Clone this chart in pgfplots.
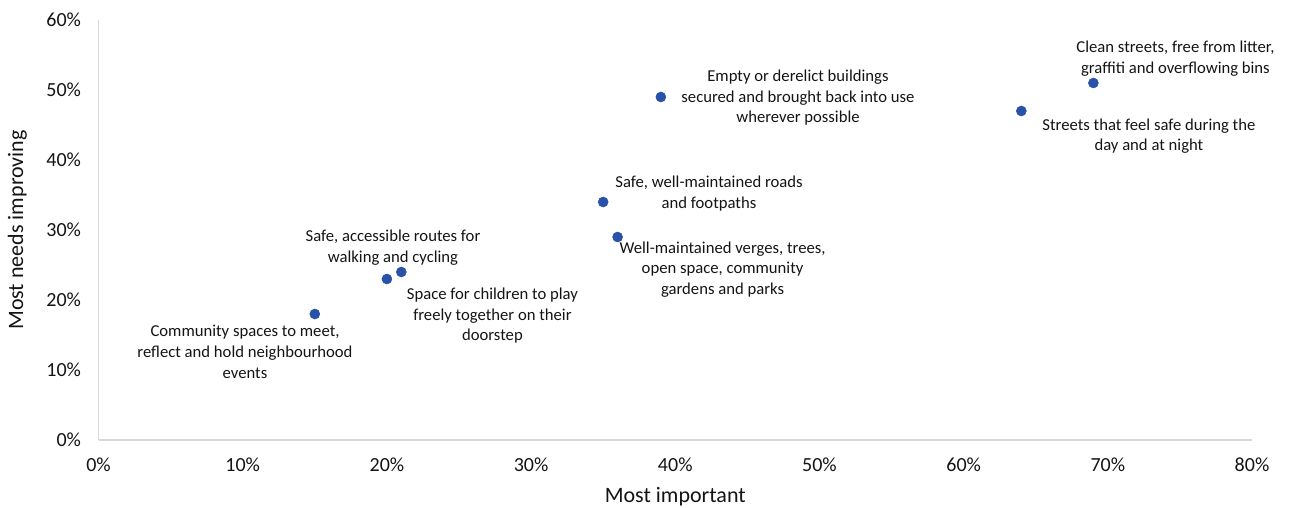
\documentclass[border=0pt]{standalone}
\usepackage{fontspec}
\setmainfont{Carlito}
\usepackage{pgfplots}
\pgfplotsset{compat=1.18}
\definecolor{pt}{RGB}{40,82,168}
\definecolor{axc}{RGB}{217,217,217}
\definecolor{txt}{RGB}{20,20,20}
\tikzset{lbl/.style={align=center, inner sep=0pt, font=\fontsize{12.5}{15.4}\selectfont, text=txt}}
\begin{document}
\begin{tikzpicture}
\begin{axis}[name=ax, scale only axis, width=865.1pt, height=315pt,
  xmin=0, xmax=80, ymin=0, ymax=60, clip=false,
  xtick={0,10,...,80}, ytick={0,10,...,60},
  xticklabels={0\%,10\%,20\%,30\%,40\%,50\%,60\%,70\%,80\%},
  yticklabels={0\%,10\%,20\%,30\%,40\%,50\%,60\%},
  axis x line*=bottom, axis y line*=left,
  axis line style={axc, line width=0.9pt, -},
  tick style={draw=none},
  ticklabel style={font=\fontsize{15}{18}\selectfont, text=txt},
  xticklabel style={yshift=-10pt},
  yticklabel style={xshift=-9.6pt},
  xlabel={Most important},
  ylabel={Most needs improving},
  xlabel style={at={(axis description cs:0.5,-0.149)}, anchor=base, font=\fontsize{16.5}{20}\selectfont, text=txt},
  ylabel style={at={(axis description cs:-0.0654,0.5)}, anchor=base, rotate=0, font=\fontsize{16.5}{20}\selectfont, text=txt},
]
\addplot[only marks, mark=*, mark size=3.75pt, color=pt] coordinates {
  (15,18) (20,23) (21,24) (35,34) (36,29) (39,49) (64,47) (69,51)
};
\node[lbl] at (axis cs:10.16,12.6) {Community spaces to meet,\\reflect and hold neighbourhood\\events};
\node[lbl] at (axis cs:20.42,27.45) {Safe, accessible routes for\\walking and cycling};
\node[lbl] at (axis cs:27.32,17.74) {Space for children to play\\freely together on their\\doorstep};
\node[lbl] at (axis cs:42.34,35.23) {Safe, well-maintained roads\\and footpaths};
\node[lbl] at (axis cs:43.28,24.38) {Well-maintained verges, trees,\\open space, community\\gardens and parks};
\node[lbl] at (axis cs:48.51,48.87) {Empty or derelict buildings\\secured and brought back into use\\wherever possible};
\node[lbl] at (axis cs:74.69,54.5) {Clean streets, free from litter,\\graffiti and overflowing bins};
\node[lbl] at (axis cs:72.85,43.44) {Streets that feel safe during the\\day and at night};
\end{axis}
\pgfresetboundingbox
\path[use as bounding box] ([shift={(-73.9pt,-51pt)}]ax.south west) rectangle ([shift={(28.5pt,15pt)}]ax.north east);
\end{tikzpicture}
\end{document}
